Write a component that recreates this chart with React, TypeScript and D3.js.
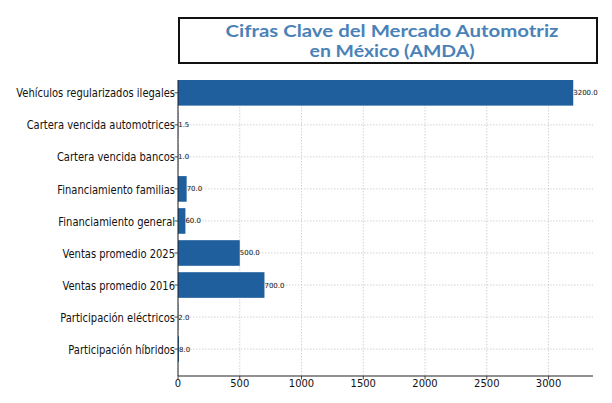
import React from "react";
import * as d3 from "d3";

const categories = [
  "Vehículos regularizados ilegales",
  "Cartera vencida automotrices",
  "Cartera vencida bancos",
  "Financiamiento familias",
  "Financiamiento general",
  "Ventas promedio 2025",
  "Ventas promedio 2016",
  "Participación eléctricos",
  "Participación híbridos",
];
const values = [3200, 1.5, 1.0, 70, 60, 500, 700, 2.0, 8.0];
const xTicks = [0, 500, 1000, 1500, 2000, 2500, 3000];
const titleLines = ["Cifras Clave del Mercado Automotriz", "en México (AMDA)"];

const W = 612;
const H = 403;
const left = 178;
const right = 593;
const top = 80;
const bottom = 376;
const barColor = "#1f5f9d";

function T(props: { x: number; y: number; anchor?: string; size: number; sq?: number; children: React.ReactNode }) {
  return (
    <text transform={`translate(${props.x},${props.y}) scale(${props.sq ?? 1},1)`} textAnchor={props.anchor || "start"}
      fontSize={props.size} fill="#111">{props.children}</text>
  );
}

export default function App() {
  const x = d3.scaleLinear().domain([0, 3360]).range([left, right]);
  const y = d3.scaleLinear().domain([-0.4, categories.length - 1 + 0.4 + 0.44]).range([top, bottom]);
  const bh = y(0.8) - y(0);
  return (
    <svg width={W} height={H} style={{ position: "absolute", left: 0, top: 0, background: "#fff" }}
      fontFamily="DejaVu Sans, sans-serif">
      <rect x={0} y={0} width={W} height={H} fill="#fff" />
      {xTicks.map((t) => (
        <line key={"gx" + t} x1={x(t)} x2={x(t)} y1={top} y2={bottom} stroke="#c8c8c8" strokeWidth={0.8} strokeDasharray="1.5,1.5" />
      ))}
      {categories.map((c, i) => (
        <line key={"gy" + i} x1={left} x2={right} y1={y(i)} y2={y(i)} stroke="#c8c8c8" strokeWidth={0.8} strokeDasharray="1.5,1.5" />
      ))}
      {values.map((v, i) => (
        <rect key={"b" + i} x={x(0)} y={y(i) - bh / 2} width={x(v) - x(0)} height={bh} fill={barColor} />
      ))}
      {values.map((v, i) => (
        <T key={"v" + i} x={x(v)} y={y(i) + 2.5} size={7}>{v.toFixed(1)}</T>
      ))}
      <line x1={left} x2={left} y1={top} y2={bottom} stroke="#222" strokeWidth={1} />
      <line x1={left} x2={right} y1={bottom} y2={bottom} stroke="#222" strokeWidth={1} />
      {categories.map((c, i) => (
        <g key={"yl" + i}>
          <line x1={left - 3.5} x2={left} y1={y(i)} y2={y(i)} stroke="#222" strokeWidth={0.8} />
          <T x={left - 3} y={y(i) + 4.6} anchor="end" size={12} sq={0.83}>{c}</T>
        </g>
      ))}
      {xTicks.map((t) => (
        <g key={"xl" + t}>
          <line x1={x(t)} x2={x(t)} y1={bottom} y2={bottom + 3.5} stroke="#222" strokeWidth={0.8} />
          <T x={x(t)} y={bottom + 11.3} anchor="middle" size={10.5} sq={0.95}>{t}</T>
        </g>
      ))}
      <rect x={179} y={18} width={418} height={45} fill="#fff" stroke="#111" strokeWidth={2} />
      {titleLines.map((l, i) => (
        <text key={"t" + i} x={392} y={37 + i * 20} textAnchor="middle" fontFamily="Lato, sans-serif"
          fontWeight={700} fontSize={17.5} fill="#4a82b8" textLength={i === 0 ? 333 : 165}
          lengthAdjust="spacingAndGlyphs">{l}</text>
      ))}
    </svg>
  );
}
